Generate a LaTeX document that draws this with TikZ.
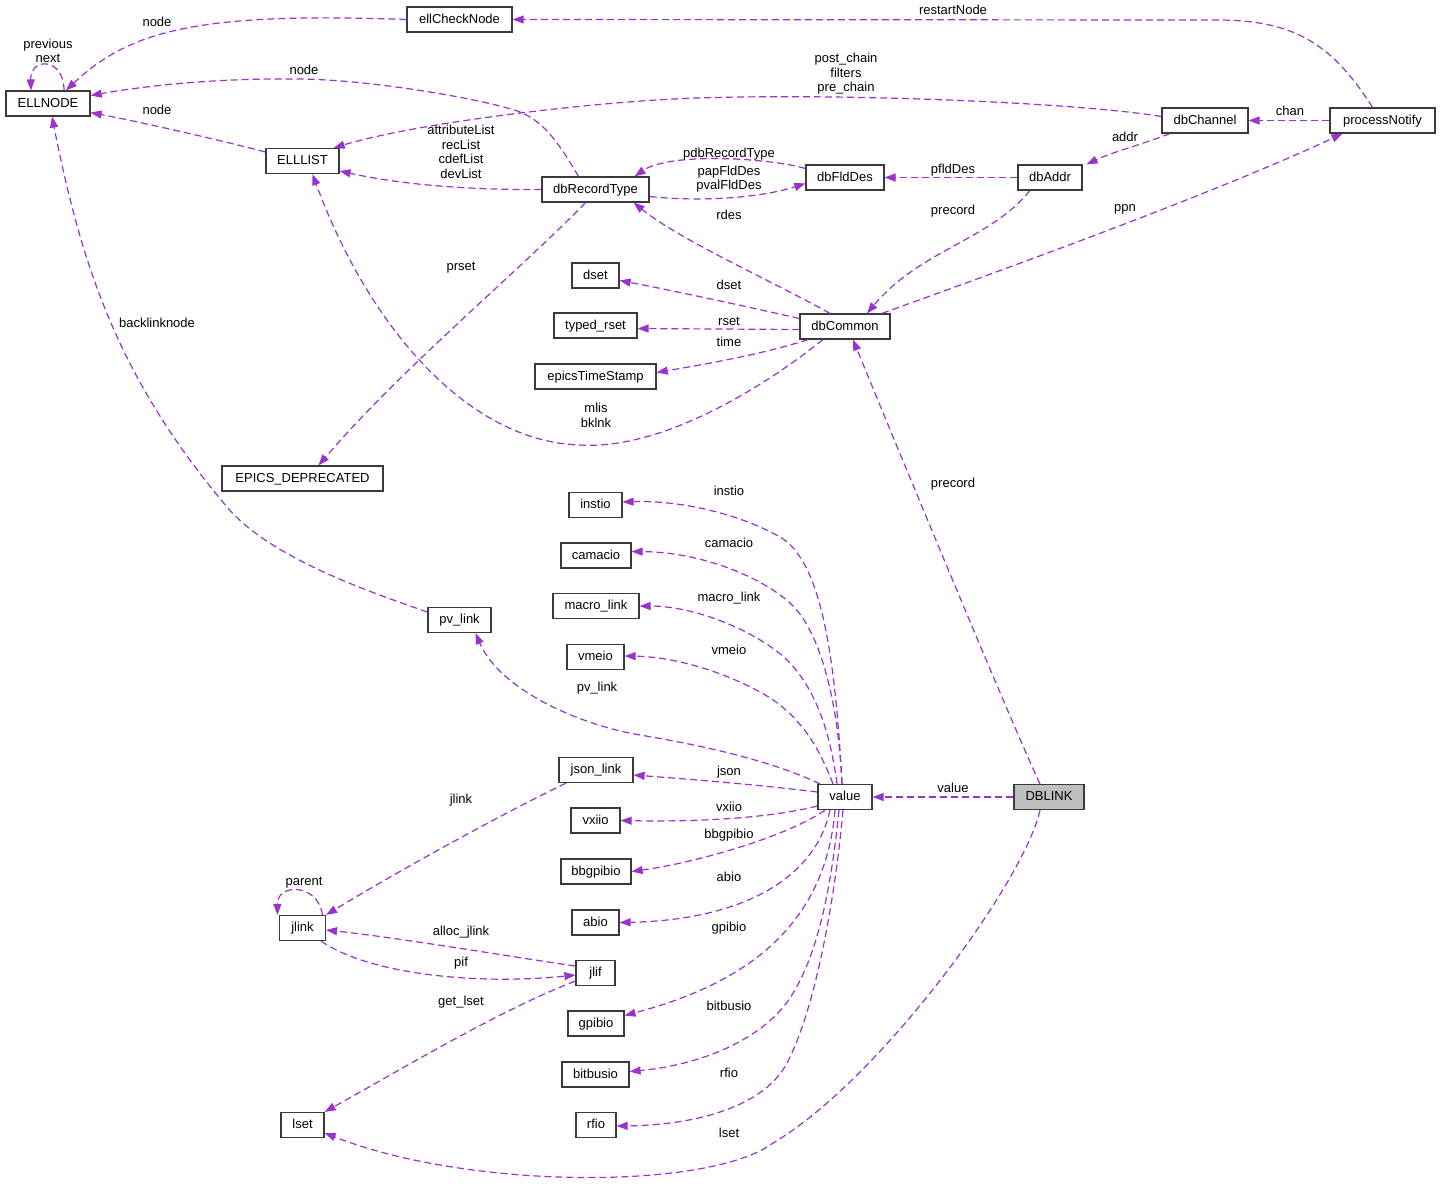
\documentclass[tikz,border=0pt]{standalone}
\usepackage{fontspec}
\setmainfont{Liberation Sans}
\usetikzlibrary{arrows.meta}
\definecolor{edgec}{HTML}{9A32CD}
\definecolor{boxc}{HTML}{3A3A3A}
\definecolor{hlc}{HTML}{BFBFBF}
\begin{document}
\begin{tikzpicture}[x=1pt,y=-1pt,
  cls/.style={draw=boxc, line width=1.2pt, minimum height=25pt, inner sep=0pt, text height=9.4pt, text depth=2pt, fill=white, font=\fontsize{13pt}{14.5pt}\selectfont},
  lbl/.style={inner sep=0pt, align=center, font=\fontsize{13pt}{14.5pt}\selectfont},
  lbs/.style={inner sep=0pt, text height=9.4pt, text depth=2pt, font=\fontsize{13pt}{14.5pt}\selectfont},
  e/.style={draw=edgec, line width=1.2pt, dash pattern=on 7pt off 4pt, -{Triangle[length=11pt,width=8pt]}},
]
\useasboundingbox[fill=white] (0,0) rectangle (1440,1187);
% nodes
\node[cls, minimum width=84pt]  (ELLNODE) at (48,103.5) {ELLNODE};
\node[cls, minimum width=105pt] (ellCheckNode) at (459.5,19.5) {ellCheckNode};
\node[cls, minimum width=73pt]  (ELLLIST) at (302.5,161) {ELLLIST};
\node[cls, minimum width=107pt] (dbRecordType) at (595.5,189.5) {dbRecordType};
\node[cls, minimum width=78pt]  (dbFldDes) at (845,177.5) {dbFldDes};
\node[cls, minimum width=64pt]  (dbAddr) at (1050,177.5) {dbAddr};
\node[cls, minimum width=86pt]  (dbChannel) at (1205,120.5) {dbChannel};
\node[cls, minimum width=105pt] (processNotify) at (1382.5,120.5) {processNotify};
\node[cls, minimum width=47pt]  (dset) at (595.5,275.5) {dset};
\node[cls, minimum width=83pt]  (typedrset) at (595.5,325.5) {typed\_rset};
\node[cls, minimum width=90pt]  (dbCommon) at (845,326.5) {dbCommon};
\node[cls, minimum width=121pt] (epicsTimeStamp) at (595.5,376.5) {epicsTimeStamp};
\node[cls, minimum width=161pt] (EPICSDEPRECATED) at (302.5,478.5) {EPICS\_DEPRECATED};
\node[cls, minimum width=63pt]  (pvlink) at (459.5,620) {pv\_link};
\node[cls, minimum width=53pt]  (instio) at (595.5,505) {instio};
\node[cls, minimum width=70pt]  (camacio) at (596,555.5) {camacio};
\node[cls, minimum width=86pt]  (macrolink) at (596,606) {macro\_link};
\node[cls, minimum width=57pt]  (vmeio) at (595.5,657) {vmeio};
\node[cls, minimum width=74pt]  (jsonlink) at (596,770) {json\_link};
\node[cls, minimum width=54pt]  (value) at (845,797) {value};
\node[cls, minimum width=49pt]  (vxiio) at (595.5,820.5) {vxiio};
\node[cls, minimum width=70pt, fill=hlc] (DBLINK) at (1049,797) {DBLINK};
\node[cls, minimum width=70pt]  (bbgpibio) at (596,871.5) {bbgpibio};
\node[cls, minimum width=47pt]  (abio) at (595.5,922.5) {abio};
\node[cls, minimum width=39pt]  (jlif) at (595.5,973) {jlif};
\node[cls, minimum width=56pt]  (gpibio) at (596,1023.5) {gpibio};
\node[cls, minimum width=67pt]  (bitbusio) at (595.5,1074.5) {bitbusio};
\node[cls, minimum width=40pt]  (rfio) at (596,1125) {rfio};
\node[cls, minimum width=46pt]  (jlink) at (302.5,928) {jlink};
\node[cls, minimum width=43pt]  (lset) at (302.5,1125) {lset};
% edges
\draw[e] (ellCheckNode.west) .. controls (200,12) and (130,30) .. ([xshift=18pt]ELLNODE.north);
\draw[e] ([xshift=16pt]ELLNODE.north) .. controls (64,57) and (30,57) .. ([xshift=-17pt]ELLNODE.north);
\draw[e] ([xshift=-17pt]dbRecordType.north) .. controls (560,145) and (545,122) .. (520,112) .. controls (495,102) and (380,80) .. (300,79) .. controls (220,78) and (150,85) .. ([yshift=8pt]ELLNODE.east);
\draw[e] ([yshift=9pt]ELLLIST.west) .. controls (220,140) and (140,122) .. ([yshift=-9pt]ELLNODE.east);
\draw[e] (dbRecordType.west) .. controls (450,190) and (390,182) .. ([yshift=-10pt]ELLLIST.east);
\draw[e] ([yshift=4pt]dbChannel.west) .. controls (1080,103) and (850,93) .. (697,98) .. controls (600,101) and (420,122) .. ([xshift=-6pt]ELLLIST.north east);
\draw[e] ([xshift=-10pt]processNotify.north) .. controls (1330,40) and (1290,20) .. (1216,20) -- (ellCheckNode.east);
\draw[e] (processNotify.west) -- (dbChannel.east);
\draw[e] ([xshift=-35pt]dbChannel.south) .. controls (1140,145) and (1110,153) .. ([xshift=4pt]dbAddr.north east);
\draw[e] (dbAddr.west) -- (dbFldDes.east);
\draw[e] ([yshift=9pt]dbFldDes.west) .. controls (770,158) and (670,152) .. ([xshift=-15pt]dbRecordType.north east);
\draw[e] ([yshift=-7pt]dbRecordType.east) .. controls (700,202) and (760,198) .. ([yshift=-6pt]dbFldDes.west);
\draw[e] ([xshift=-15pt]dbCommon.north) .. controls (770,280) and (680,240) .. ([xshift=-16pt]dbRecordType.south east);
\draw[e] ([xshift=-20pt]dbAddr.south) .. controls (990,240) and (920,250) .. ([xshift=22pt]dbCommon.north);
\draw[e] ([xshift=37pt]dbCommon.north) .. controls (960,285) and (1200,200) .. ([xshift=-40pt]processNotify.south);
\draw[e] ([yshift=8pt]dbCommon.west) .. controls (740,305) and (670,290) .. ([yshift=-5pt]dset.east);
\draw[e] ([yshift=-3pt]dbCommon.west) -- ([yshift=-3pt]typedrset.east);
\draw[e] ([xshift=-37pt]dbCommon.south) .. controls (760,355) and (700,365) .. ([yshift=4pt]epicsTimeStamp.east);
\draw[e] ([xshift=-22pt]dbCommon.south) .. controls (760,390) and (660,450) .. (580,445) .. controls (470,442) and (370,330) .. ([xshift=10pt]ELLLIST.south);
\draw[e] ([xshift=-10pt]dbRecordType.south) .. controls (520,270) and (400,370) .. ([xshift=16pt]EPICSDEPRECATED.north);
\draw[e] ([yshift=8pt]pvlink.west) .. controls (370,592) and (270,558) .. (227,507) .. controls (119,379) and (82,268) .. ([xshift=4pt]ELLNODE.south);
\draw[e] ([xshift=-25pt]value.north) .. controls (770,760) and (700,745) .. (640,735) .. controls (580,725) and (500,690) .. ([xshift=16pt]pvlink.south);
\draw[e] ([xshift=-3pt]value.north) .. controls (835,650) and (820,560) .. (780,537) .. controls (740,514) and (680,500) .. ([yshift=3pt]instio.east);
\draw[e] ([xshift=-3pt]value.north) .. controls (838,700) and (820,630) .. (790,603) .. controls (760,576) and (700,552) .. ([yshift=4pt]camacio.east);
\draw[e] ([xshift=-8pt]value.north) .. controls (830,730) and (815,690) .. (790,663) .. controls (765,636) and (700,606) .. (macrolink.east);
\draw[e] ([xshift=-12pt]value.north) .. controls (820,750) and (805,725) .. (780,705) .. controls (755,685) and (690,657) .. ([yshift=1pt]vmeio.east);
\draw[e] ([yshift=5pt]value.west) .. controls (760,785) and (700,780) .. ([yshift=-5pt]jsonlink.east);
\draw[e] ([yshift=-9pt]value.west) .. controls (770,818) and (700,822) .. (vxiio.east);
\draw[e] ([xshift=-20pt]value.south) .. controls (790,835) and (700,862) .. (bbgpibio.east);
\draw[e] ([xshift=-15pt]value.south) .. controls (815,880) and (740,920) .. (abio.east);
\draw[e] ([xshift=-10pt]value.south) .. controls (825,930) and (740,985) .. ([yshift=8pt]gpibio.east);
\draw[e] ([xshift=-6pt]value.south) .. controls (830,900) and (815,960) .. (790,998) .. controls (762,1040) and (700,1065) .. ([yshift=3pt]bitbusio.east);
\draw[e] ([xshift=-2pt]value.south) .. controls (835,900) and (815,1010) .. (787,1063) .. controls (765,1105) and (700,1125) .. ([yshift=-1pt]rfio.east);
\draw[e] (DBLINK.west) -- (value.east);
\draw[e] ([xshift=-9pt]DBLINK.north) .. controls (1010,720) and (890,430) .. ([xshift=8pt]dbCommon.south);
\draw[e] ([xshift=-9pt]DBLINK.south) .. controls (1025,880) and (880,1080) .. (773,1143) .. controls (710,1190) and (470,1190) .. ([yshift=-8pt]lset.east);
\draw[e] ([xshift=-30pt]jsonlink.south) .. controls (500,815) and (400,870) .. (jlink.north east);
\draw[e] ([xshift=20pt]jlink.north) .. controls (318,883) and (277,883) .. ([xshift=-25pt]jlink.north);
\draw[e] ([yshift=7pt]jlif.west) .. controls (500,955) and (400,938) .. ([yshift=-2pt]jlink.east);
\draw[e] ([xshift=-5pt]jlink.south east) .. controls (370,975) and (480,985) .. ([yshift=-2pt]jlif.west);
\draw[e] ([yshift=-8pt]jlif.west) .. controls (500,1010) and (400,1070) .. (lset.north east);
% labels
\node[lbs] (L1) at (157,23) {node};
\node[lbl] (L2) at (48,51) {previous\\next};
\node[lbs] (L3) at (304,71) {node};
\node[lbs] (L4) at (157,111) {node};
\node[lbl] (L5) at (461,152) {attributeList\\recList\\cdefList\\devList};
\node[lbs] (L6) at (953,11) {restartNode};
\node[lbl] (L7) at (846,74) {post\_chain\\filters\\pre\_chain};
\node[lbs] (L8) at (1290,112) {chan};
\node[lbs] (L9) at (1125,138) {addr};
\node[lbs] (L10) at (729,154) {pdbRecordType};
\node[lbl] (L11) at (729,179) {papFldDes\\pvalFldDes};
\node[lbs] (L12) at (953,170) {pfldDes};
\node[lbs] (L13) at (729,216) {rdes};
\node[lbs] (L14) at (953,211) {precord};
\node[lbs] (L15) at (1125,208) {ppn};
\node[lbs] (L16) at (461,267) {prset};
\node[lbs] (L17) at (729,286) {dset};
\node[lbs] (L18) at (729,322) {rset};
\node[lbs] (L19) at (729,343) {time};
\node[lbs] (L20) at (157,324) {backlinknode};
\node[lbl] (L21) at (596,415.5) {mlis\\bklnk};
\node[lbs] (L22) at (953,484) {precord};
\node[lbs] (L23) at (729,492) {instio};
\node[lbs] (L24) at (729,544) {camacio};
\node[lbs] (L25) at (729,598) {macro\_link};
\node[lbs] (L26) at (729,651) {vmeio};
\node[lbs] (L27) at (597,688) {pv\_link};
\node[lbs] (L28) at (729,772) {json};
\node[lbs] (L29) at (953,789) {value};
\node[lbs] (L30) at (461,800) {jlink};
\node[lbs] (L31) at (729,808) {vxiio};
\node[lbs] (L32) at (729,835) {bbgpibio};
\node[lbs] (L33) at (729,878) {abio};
\node[lbs] (L34) at (304,882) {parent};
\node[lbs] (L35) at (729,928) {gpibio};
\node[lbs] (L36) at (461,932) {alloc\_jlink};
\node[lbs] (L37) at (461,963) {pif};
\node[lbs] (L38) at (461,1002) {get\_lset};
\node[lbs] (L39) at (729,1007) {bitbusio};
\node[lbs] (L40) at (729,1074) {rfio};
\node[lbs] (L41) at (729,1134) {lset};
\end{tikzpicture}
\end{document}
